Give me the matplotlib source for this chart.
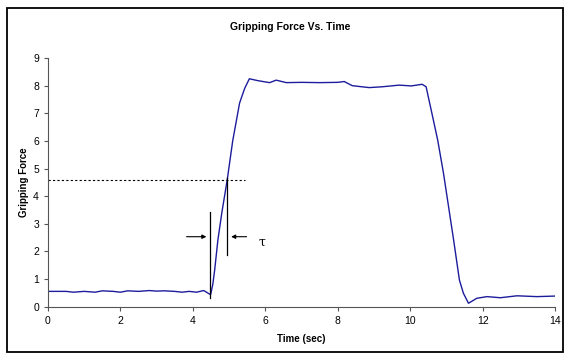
import numpy as np
import matplotlib.pyplot as plt
from matplotlib.patches import Rectangle

plt.rcParams['font.family'] = ['Liberation Sans', 'DejaVu Sans']

# gripping force readings (time in sec, force)
time = [0.0, 0.5, 0.7, 1.0, 1.3, 1.5, 1.8, 2.0, 2.2, 2.5, 2.8, 3.0, 3.2, 3.5,
        3.7, 3.9, 4.1, 4.3, 4.49, 4.55, 4.6, 4.69, 4.8, 4.95, 5.1, 5.29, 5.43,
        5.56, 5.8, 6.12, 6.3, 6.58, 7.0, 7.5, 8.0, 8.18, 8.4, 8.87, 9.23, 9.7,
        10.03, 10.33, 10.44, 10.6, 10.76, 10.92, 11.2, 11.36, 11.47, 11.61,
        11.84, 12.12, 12.49, 12.95, 13.5, 14.0]
force = [0.55, 0.55, 0.52, 0.55, 0.52, 0.57, 0.55, 0.52, 0.57, 0.55, 0.58, 0.56,
         0.57, 0.55, 0.52, 0.55, 0.52, 0.58, 0.43, 0.8, 1.3, 2.4, 3.4, 4.6, 6.0,
         7.37, 7.9, 8.25, 8.18, 8.11, 8.2, 8.11, 8.12, 8.11, 8.12, 8.15, 8.0,
         7.93, 7.96, 8.02, 7.99, 8.05, 7.96, 7.0, 6.03, 4.83, 2.41, 0.96, 0.48,
         0.12, 0.3, 0.36, 0.32, 0.39, 0.36, 0.38]

tau_level = 4.57
t_start = 4.48
t_tau = 4.95

fig = plt.figure(figsize=(5.64, 3.54), dpi=100)
ax = fig.add_axes([0.0851, 0.134, 0.899, 0.702])

ax.plot(time, force, color='#1c1c9c', lw=1.0)

# annotation: time constant
ax.plot([0, 5.43], [tau_level, tau_level], color='black', lw=0.8, ls=(0, (2, 2)))
ax.plot([t_start, t_start], [0.3, 3.41], color='black', lw=0.9)
ax.plot([t_tau, t_tau], [1.87, 4.65], color='black', lw=0.9)
ax.annotate('', xy=(t_start - 0.03, 2.53), xytext=(3.75, 2.53),
            arrowprops=dict(arrowstyle='-|>', color='black', lw=0.8, mutation_scale=6))
ax.annotate('', xy=(t_tau + 0.03, 2.53), xytext=(5.56, 2.53),
            arrowprops=dict(arrowstyle='-|>', color='black', lw=0.8, mutation_scale=6))
ax.text(5.8, 2.34, 'τ', fontsize=9, family=['DejaVu Serif'], va='center', ha='left')

ax.set_xlim(0, 14)
ax.set_ylim(0, 9)
ax.set_xticks(range(0, 15, 2))
ax.set_yticks(range(0, 10))
ax.spines['top'].set_visible(False)
ax.spines['right'].set_visible(False)
for s in ['left', 'bottom']:
    ax.spines[s].set_color('#555555')
    ax.spines[s].set_linewidth(0.8)
ax.tick_params(labelsize=7.5, length=3, width=0.8, color='#555555')

fig.text(0.514, 0.924, 'Gripping Force Vs. Time', fontsize=7.5, fontweight='bold',
         ha='center', va='center')
ax.set_xlabel('Time (sec)', fontsize=7, fontweight='bold', labelpad=6)
ax.set_ylabel('Gripping Force', fontsize=7, fontweight='bold', labelpad=3)

fig.patches.append(Rectangle((0.0124, 0.0056), 0.986, 0.973, transform=fig.transFigure,
                             fill=False, edgecolor='black', lw=1.3))

fig.savefig('out.png', dpi=100)
